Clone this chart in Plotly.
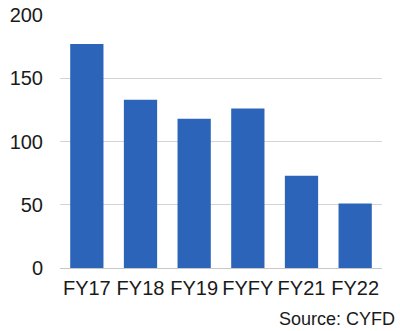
import plotly.graph_objects as go

# Fiscal-year counts (CYFD)
categories = ["FY17", "FY18", "FY19", "FYFY", "FY21", "FY22"]
values = [177, 133, 118, 126, 73, 51]
y_ticks = [0, 50, 100, 150, 200]

bar_color = "#2c64b9"
font_family = "Liberation Sans, Arial, sans-serif"

fig = go.Figure(
    go.Bar(
        x=categories,
        y=values,
        marker=dict(color=bar_color, line=dict(width=0)),
        width=0.62,
    )
)

fig.update_layout(
    width=400,
    height=331,
    margin=dict(l=60, r=18, t=15, b=63, autoexpand=False),
    paper_bgcolor="white",
    plot_bgcolor="white",
    showlegend=False,
    font=dict(family=font_family, size=20, color="#1a1a1a"),
    xaxis=dict(
        automargin=False,
        showgrid=False,
        showline=False,
        ticks="",
        ticklabelstandoff=6,
        tickfont=dict(size=20),
    ),
    yaxis=dict(
        automargin=False,
        range=[0, 200],
        tickvals=y_ticks,
        showgrid=True,
        gridcolor="#d4d4d4",
        gridwidth=1,
        zeroline=True,
        zerolinecolor="#c8c8c8",
        zerolinewidth=1,
        showline=False,
        ticks="",
        ticklabelstandoff=16,
        tickfont=dict(size=20),
    ),
    annotations=[
        dict(
            text="Source: CYFD",
            xref="paper",
            yref="paper",
            x=1.047,
            y=-0.202,
            xanchor="right",
            yanchor="middle",
            showarrow=False,
            font=dict(size=18, color="#1a1a1a"),
        )
    ],
)

fig.write_html("out.html")
